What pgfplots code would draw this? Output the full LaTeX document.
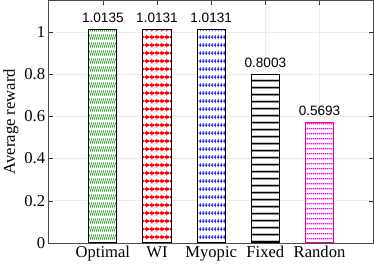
\documentclass[border=0pt]{standalone}
\usepackage{fontspec}
\setmainfont{Liberation Serif}
\setsansfont{Liberation Sans}
\usepackage{pgfplots}
\pgfplotsset{compat=1.18}
\usetikzlibrary{patterns,patterns.meta}

\pgfdeclarepattern{name=optpat, type=uncolored,
  bottom left={\pgfpoint{0pt}{0pt}}, top right={\pgfpoint{2.4pt}{8.3pt}},
  tile size={\pgfpoint{2.4pt}{8.3pt}},
  code={\pgfsetlinewidth{0.8pt}
    \pgfpathmoveto{\pgfpoint{0pt}{1.2pt}}\pgfpathlineto{\pgfpoint{2.4pt}{7.1pt}}
    \pgfusepath{stroke}}}
\pgfdeclarepattern{name=wipat, type=uncolored,
  bottom left={\pgfpoint{0pt}{0pt}}, top right={\pgfpoint{5pt}{8.3pt}},
  tile size={\pgfpoint{5pt}{8.3pt}},
  code={\pgfsetlinewidth{2pt}
    \pgfpathmoveto{\pgfpoint{0pt}{4.15pt}}\pgfpathlineto{\pgfpoint{5pt}{4.15pt}}
    \pgfusepath{stroke}
    \pgfsetlinewidth{0.8pt}
    \pgfpathmoveto{\pgfpoint{1pt}{1.8pt}}\pgfpathlineto{\pgfpoint{4.2pt}{4.15pt}}\pgfpathlineto{\pgfpoint{1pt}{6.5pt}}
    \pgfusepath{stroke}}}
\pgfdeclarepattern{name=mypat, type=uncolored,
  bottom left={\pgfpoint{0pt}{0pt}}, top right={\pgfpoint{2.6pt}{8.3pt}},
  tile size={\pgfpoint{2.6pt}{8.3pt}},
  code={\pgfsetlinewidth{1.2pt}
    \pgfpathmoveto{\pgfpoint{0pt}{4.15pt}}\pgfpathlineto{\pgfpoint{2.6pt}{4.15pt}}
    \pgfusepath{stroke}
    \pgfsetlinewidth{0.8pt}
    \pgfpathmoveto{\pgfpoint{1.3pt}{2pt}}\pgfpathlineto{\pgfpoint{1.3pt}{6.3pt}}
    \pgfusepath{stroke}}}
\pgfdeclarepattern{name=fixpat, type=uncolored,
  bottom left={\pgfpoint{0pt}{0pt}}, top right={\pgfpoint{2.4pt}{6.8pt}},
  tile size={\pgfpoint{2.4pt}{6.8pt}},
  code={\pgfsetlinewidth{0.8pt}
    \pgfpathmoveto{\pgfpoint{0pt}{3.4pt}}\pgfpathlineto{\pgfpoint{2.4pt}{3.4pt}}
    \pgfusepath{stroke}
    \pgfsetlinewidth{0.7pt}
    \pgfpathmoveto{\pgfpoint{1.2pt}{2.1pt}}\pgfpathlineto{\pgfpoint{1.2pt}{4.7pt}}
    \pgfusepath{stroke}}}
\pgfdeclarepattern{name=ranpat, type=uncolored,
  bottom left={\pgfpoint{0pt}{0pt}}, top right={\pgfpoint{2pt}{4.7pt}},
  tile size={\pgfpoint{2pt}{4.7pt}},
  code={\pgfsetlinewidth{1.2pt}
    \pgfpathmoveto{\pgfpoint{0pt}{2.35pt}}\pgfpathlineto{\pgfpoint{2pt}{2.35pt}}
    \pgfusepath{stroke}}}

\definecolor{optgreen}{RGB}{30,150,30}

\begin{document}
\begin{tikzpicture}
\begin{axis}[
  scale only axis, width=323pt, height=241pt,
  xmin=0, xmax=6, ymin=0, ymax=1.15,
  xtick={1,2,3,4,5}, xticklabels={Optimal,WI,Myopic,Fixed,Randon},
  ytick={0,0.2,0.4,0.6,0.8,1},
  tick align=inside,
  grid=major, major grid style={gray!15, line width=0.5pt},
  axis line style={gray!60!black, line width=0.6pt},
  tick style={gray!40!black},
  ylabel={Average reward},
  ticklabel style={font=\fontsize{16.5}{18}\selectfont},
  label style={font=\fontsize{16.5}{18}\selectfont},
  ylabel style={yshift=-1pt},
  /pgf/number format/assume math mode=true,
  every node near coord/.append style={font=\sffamily\fontsize{13.5}{15}\selectfont, black, anchor=south, yshift=3pt,
    /pgf/number format/fixed, /pgf/number format/precision=4, /pgf/number format/fixed zerofill},
  bar width=28pt,
]
\addplot[ybar, bar shift=0pt, draw=black, line width=1pt, fill=white,
  postaction={pattern=optpat, pattern color=optgreen}, nodes near coords] coordinates {(1,1.0135)};
\addplot[ybar, bar shift=0pt, draw=black, line width=1pt, fill=white,
  postaction={pattern=wipat, pattern color=red}, nodes near coords] coordinates {(2,1.0131)};
\addplot[ybar, bar shift=0pt, draw=black, line width=1pt, fill=white,
  postaction={pattern=mypat, pattern color=blue}, nodes near coords] coordinates {(3,1.0131)};
\addplot[ybar, bar shift=0pt, draw=black, line width=1pt, fill=white,
  postaction={pattern=fixpat, pattern color=black}, nodes near coords] coordinates {(4,0.8003)};
\addplot[ybar, bar shift=0pt, draw=magenta, line width=1pt, fill=white,
  postaction={pattern=ranpat, pattern color=magenta}, nodes near coords] coordinates {(5,0.5693)};
\end{axis}
\end{tikzpicture}
\end{document}
